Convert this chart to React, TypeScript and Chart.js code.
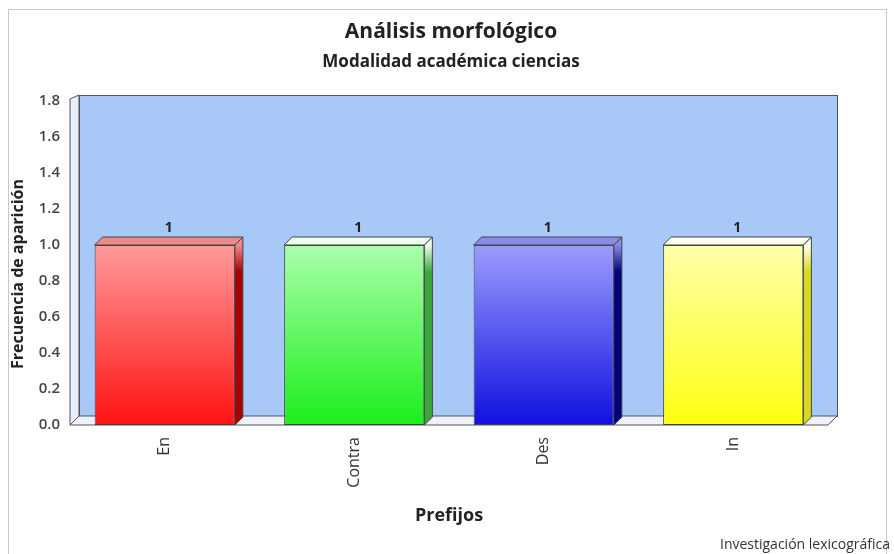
import React, { useEffect, useRef } from "react";
import { Chart, registerables } from "chart.js";

Chart.register(...registerables);

const categories = ["En", "Contra", "Des", "In"];
const values = [1, 1, 1, 1];
const yTicks = { min: 0, max: 1.8, step: 0.2 };
const titleText = "Análisis morfológico";
const subtitleText = "Modalidad académica ciencias";
const xTitle = "Prefijos";
const yTitle = "Frecuencia de aparición";
const footerText = "Investigación lexicográfica";

const frontTop = ["#ff9a9a", "#aaffaa", "#9c9cff", "#ffffaa"];
const frontBottom = ["#ff1212", "#1cee1c", "#1010e0", "#ffff12"];
const sideColors = ["#a80000", "#3aa83a", "#00007a", "#d8d820"];
const topColors = ["#f08a8a", "#eaffea", "#8a8ae8", "#fffff0"];

const FONT = "'Open Sans', 'DejaVu Sans', sans-serif";
const D = 8;

const threeD = {
  id: "threeD",
  beforeDraw(chart: any) {
    const { ctx, chartArea } = chart;
    const { left, right, top, bottom } = chartArea;
    ctx.save();
    ctx.fillStyle = "#ffffff";
    ctx.fillRect(0, 0, chart.width, chart.height);
    // frame
    ctx.strokeStyle = "#c8c8c8";
    ctx.lineWidth = 1;
    ctx.strokeRect(8.5, 9.5, 878, 560);
    const wd = 9;
    // back wall
    ctx.fillStyle = "#a8c8f8";
    ctx.fillRect(left + wd, top - 6, right - left, bottom - wd - (top - 6));
    ctx.strokeStyle = "#555";
    ctx.strokeRect(left + wd + 0.5, top - 6 + 0.5, right - left, bottom - wd - (top - 6));
    // left wall
    ctx.beginPath();
    ctx.moveTo(left, bottom);
    ctx.lineTo(left, top - 2);
    ctx.lineTo(left + wd, top - 6);
    ctx.lineTo(left + wd, bottom - wd);
    ctx.closePath();
    ctx.fillStyle = "#e6eefa";
    ctx.fill();
    ctx.strokeStyle = "#555";
    ctx.stroke();
    // floor
    ctx.beginPath();
    ctx.moveTo(left, bottom);
    ctx.lineTo(right, bottom);
    ctx.lineTo(right + wd, bottom - wd);
    ctx.lineTo(left + wd, bottom - wd);
    ctx.closePath();
    ctx.fillStyle = "#eef2f8";
    ctx.fill();
    ctx.stroke();
    // y axis title
    ctx.save();
    ctx.translate(18, 274);
    ctx.rotate(-Math.PI / 2);
    ctx.fillStyle = "#222";
    ctx.font = `bold 16px ${FONT}`;
    ctx.textAlign = "center";
    ctx.textBaseline = "middle";
    ctx.fillText(yTitle, 0, 0);
    ctx.restore();
    ctx.restore();
  },
  afterDatasetsDraw(chart: any) {
    const { ctx } = chart;
    const meta = chart.getDatasetMeta(0);
    ctx.save();
    meta.data.forEach((bar: any, i: number) => {
      const { x, y, base, width } = bar.getProps(["x", "y", "base", "width"], true);
      const l = x - width / 2;
      const r = x + width / 2;
      // side face
      ctx.beginPath();
      ctx.moveTo(r, y);
      ctx.lineTo(r + D, y - D);
      ctx.lineTo(r + D, base - D);
      ctx.lineTo(r, base);
      ctx.closePath();
      const sg = ctx.createLinearGradient(0, y, 0, base);
      sg.addColorStop(0, topColors[i]);
      sg.addColorStop(0.15, sideColors[i]);
      sg.addColorStop(1, sideColors[i]);
      ctx.fillStyle = sg;
      ctx.fill();
      ctx.strokeStyle = "#444";
      ctx.lineWidth = 1;
      ctx.stroke();
      // top face
      ctx.beginPath();
      ctx.moveTo(l, y);
      ctx.lineTo(l + D, y - D);
      ctx.lineTo(r + D, y - D);
      ctx.lineTo(r, y);
      ctx.closePath();
      ctx.fillStyle = topColors[i];
      ctx.fill();
      ctx.stroke();
      // value label
      ctx.fillStyle = "#222";
      ctx.font = `bold 14px ${FONT}`;
      ctx.textAlign = "center";
      ctx.textBaseline = "middle";
      ctx.fillText(String(values[i]), x + D / 2, y - D - 9);
    });
    // footer
    ctx.fillStyle = "#333";
    ctx.font = `14px ${FONT}`;
    ctx.textAlign = "right";
    ctx.textBaseline = "middle";
    ctx.fillText(footerText, 890, 545);
    ctx.restore();
  },
};

export default function App() {
  const ref = useRef<HTMLCanvasElement>(null);
  useEffect(() => {
    if (!ref.current) return;
    const chart = new Chart(ref.current, {
      type: "bar",
      data: {
        labels: categories,
        datasets: [
          {
            data: values,
            backgroundColor: (c: any) => {
              const ch = c.chart;
              const i = c.dataIndex;
              if (!ch.chartArea) return frontBottom[i];
              const ys = ch.scales.y;
              const y0 = ys.getPixelForValue(values[i]);
              const y1 = ys.getPixelForValue(0);
              const g = ch.ctx.createLinearGradient(0, y0, 0, y1);
              g.addColorStop(0, frontTop[i]);
              g.addColorStop(1, frontBottom[i]);
              return g;
            },
            borderColor: "#444",
            borderWidth: 1,
            borderSkipped: false,
            barPercentage: 0.74,
            categoryPercentage: 1,
          },
        ],
      },
      plugins: [threeD],
      options: {
        responsive: false,
        animation: false,
        layout: { padding: { left: 8, right: 0, top: 10, bottom: 20 } },
        plugins: {
          legend: { display: false },
          tooltip: { enabled: false },
          title: {
            display: true,
            text: titleText,
            color: "#222",
            font: { family: FONT, size: 21, weight: "bold" },
            padding: { top: 9.4, bottom: 3 },
          },
          subtitle: {
            display: true,
            text: subtitleText,
            color: "#222",
            font: { family: FONT, size: 17, weight: "bold" },
            padding: { top: 4.2, bottom: 28.8 },
          },
        },
        scales: {
          x: {
            grid: { display: false, drawTicks: false },
            border: { display: false },
            ticks: {
              color: "#333",
              font: { family: FONT, size: 16 },
              minRotation: 90,
              maxRotation: 90,
              padding: 12,
            },
            title: {
              display: true,
              text: xTitle,
              color: "#222",
              font: { family: FONT, size: 18, weight: "bold" },
              padding: { top: 0, bottom: 7.2 },
            },
            afterFit: (s: any) => {
              s.height = 109;
            },
          },
          y: {
            min: yTicks.min,
            max: yTicks.max,
            grid: { display: false, drawTicks: false },
            border: { display: false },
            ticks: {
              stepSize: yTicks.step,
              color: "#444",
              font: { family: FONT, size: 15, weight: "600" },
              padding: 10,
              callback: (v: any) => Number(v).toFixed(1),
            },
            title: { display: false },
            afterFit: (s: any) => {
              s.width = 62;
            },
          },
          yRight: {
            position: "right",
            min: 0,
            max: 1,
            grid: { display: false, drawTicks: false },
            border: { display: false },
            ticks: { display: false },
            afterFit: (s: any) => {
              s.width = 66;
            },
          },
        },
      },
    });
    return () => chart.destroy();
  }, []);
  return (
    <canvas
      ref={ref}
      width={894}
      height={554}
      style={{ position: "fixed", left: 0, top: 0, display: "block" }}
    />
  );
}
